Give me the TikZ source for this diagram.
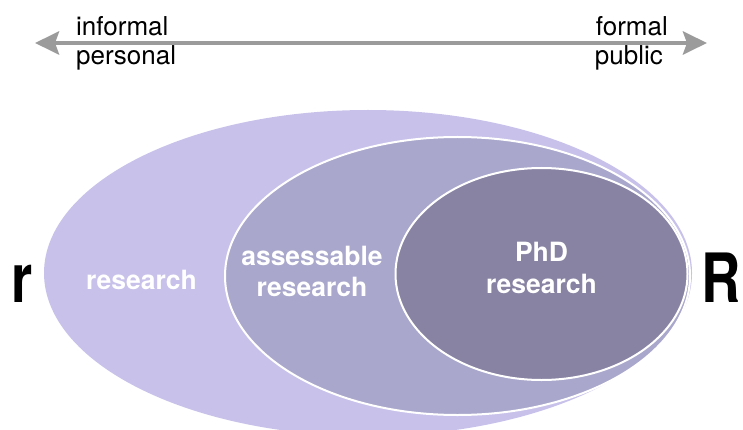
\documentclass[tikz,border=0pt]{standalone}
\usepackage{fontspec}
\setmainfont{TeX Gyre Heros}
\usetikzlibrary{shapes.geometric,arrows.meta}
\definecolor{outerc}{RGB}{200,194,234}
\definecolor{midc}{RGB}{169,167,203}
\definecolor{innerc}{RGB}{137,131,163}
\definecolor{arrowc}{RGB}{155,155,155}
\begin{document}
\begin{tikzpicture}[x=1pt,y=-1pt,
  region/.style={ellipse, inner sep=0pt, outer sep=0pt},
  scalelabel/.style={font=\fontsize{26}{26}\selectfont, inner sep=0pt, text=black},
  boldlabel/.style={font=\bfseries\fontsize{26.5}{26.5}\selectfont, inner sep=0pt, text=white, anchor=base},
  biglabel/.style={font=\bfseries\fontsize{68}{68}\selectfont, inner sep=0pt, text=black, anchor=base west},
  scaleline/.style={draw=arrowc, line width=4.5pt, {Stealth[length=24pt,width=23pt,inset=4pt]}-{Stealth[length=24pt,width=23pt,inset=4pt]}}
]
\useasboundingbox (0,0) rectangle (743,430);
% arrow
\coordinate (leftend) at (35,43);
\coordinate (rightend) at (707,43);
\draw[scaleline] (leftend) -- (rightend);
\node[scalelabel, anchor=base west] (informal) at (76,36) {informal};
\node[scalelabel, anchor=base west] (personal) at (76,65) {personal};
\node[scalelabel, anchor=base east] (formal) at (668,36) {formal};
\node[scalelabel, anchor=base east] (public) at (663,65) {public};
% regions
\node[region, fill=outerc, minimum width=648pt, minimum height=326pt] (outer) at (368,273) {};
\node[region, fill=midc, draw=white, line width=2pt, minimum width=465pt, minimum height=278pt] (mid) at (457.5,276) {};
\node[region, fill=innerc, draw=white, line width=2pt, minimum width=292pt, minimum height=212pt] (inner) at (541.5,274) {};
% labels
\node[boldlabel] (res) at (141.5,289) {research};
\node[boldlabel] (ass1) at (312,265) {assessable};
\node[boldlabel] (ass2) at (312,296) {research};
\node[boldlabel] (phd1) at (541.5,261) {PhD};
\node[boldlabel] (phd2) at (541.5,293) {research};
\node[biglabel] (rlow) at (11,302) {\scalebox{0.8}[1]{r}};
\node[biglabel] (Rup) at (701,302) {\scalebox{0.8}[1]{R}};
\end{tikzpicture}
\end{document}
